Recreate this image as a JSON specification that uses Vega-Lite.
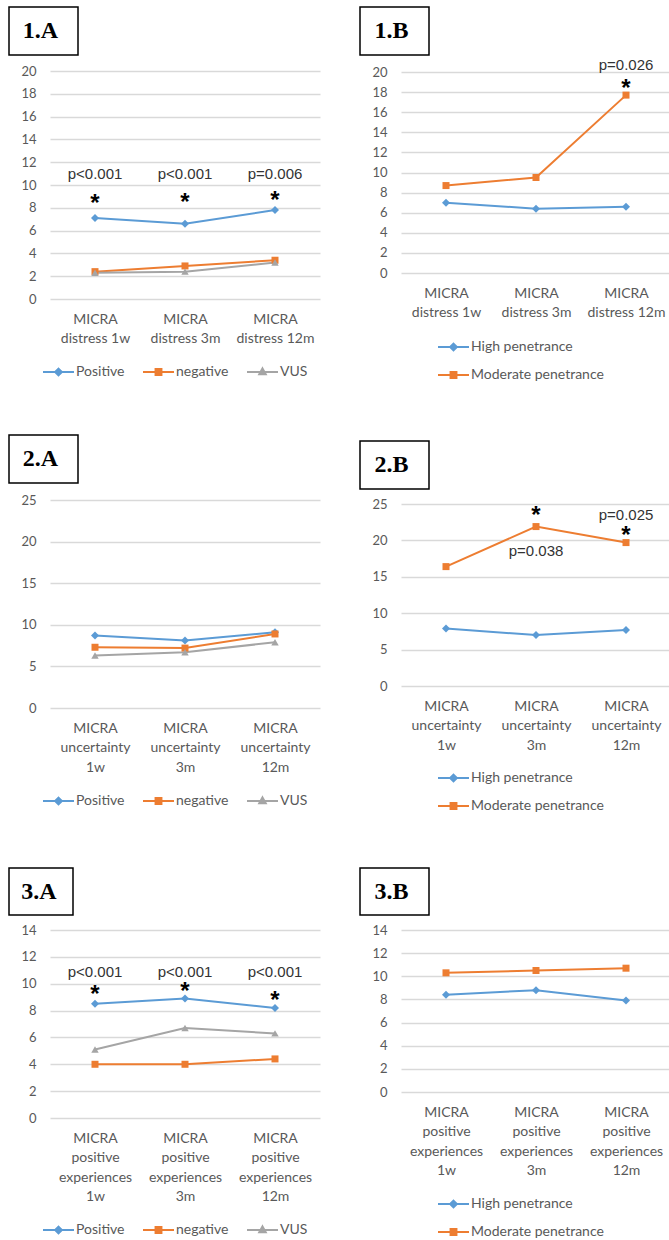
{
  "$schema": "https://vega.github.io/schema/vega-lite/v6.json",
  "padding": {"left": 8, "top": 6, "right": 0, "bottom": 0},
  "background": "white",
  "config": {
    "view": {"stroke": null},
    "font": "Lato",
    "axis": {"domain": false, "ticks": false, "tickSize": 0, "labelFont": "Lato", "labelFontSize": 13, "labelColor": "#595959", "gridColor": "#d9d9d9", "gridWidth": 1.3},
    "axisX": {"grid": false, "labelAngle": 0, "labelPadding": 13, "labelLineHeight": 19.5, "labelFontSize": 14},
    "axisY": {"grid": true, "labelPadding": 14, "minExtent": 40, "maxExtent": 40}
  },
  "datasets": {
    "lines": [
      {"panel": "1A", "time": "MICRA distress 1w", "series": "Positive", "value": 7.1},
      {"panel": "1A", "time": "MICRA distress 3m", "series": "Positive", "value": 6.6},
      {"panel": "1A", "time": "MICRA distress 12m", "series": "Positive", "value": 7.8},
      {"panel": "1A", "time": "MICRA distress 1w", "series": "negative", "value": 2.4},
      {"panel": "1A", "time": "MICRA distress 3m", "series": "negative", "value": 2.9},
      {"panel": "1A", "time": "MICRA distress 12m", "series": "negative", "value": 3.4},
      {"panel": "1A", "time": "MICRA distress 1w", "series": "VUS", "value": 2.3},
      {"panel": "1A", "time": "MICRA distress 3m", "series": "VUS", "value": 2.4},
      {"panel": "1A", "time": "MICRA distress 12m", "series": "VUS", "value": 3.2},
      {"panel": "1B", "time": "MICRA distress 1w", "series": "High penetrance", "value": 7.0},
      {"panel": "1B", "time": "MICRA distress 3m", "series": "High penetrance", "value": 6.4},
      {"panel": "1B", "time": "MICRA distress 12m", "series": "High penetrance", "value": 6.6},
      {"panel": "1B", "time": "MICRA distress 1w", "series": "Moderate penetrance", "value": 8.7},
      {"panel": "1B", "time": "MICRA distress 3m", "series": "Moderate penetrance", "value": 9.5},
      {"panel": "1B", "time": "MICRA distress 12m", "series": "Moderate penetrance", "value": 17.7},
      {"panel": "2A", "time": "MICRA uncertainty 1w", "series": "Positive", "value": 8.7},
      {"panel": "2A", "time": "MICRA uncertainty 3m", "series": "Positive", "value": 8.1},
      {"panel": "2A", "time": "MICRA uncertainty 12m", "series": "Positive", "value": 9.1},
      {"panel": "2A", "time": "MICRA uncertainty 1w", "series": "negative", "value": 7.3},
      {"panel": "2A", "time": "MICRA uncertainty 3m", "series": "negative", "value": 7.2},
      {"panel": "2A", "time": "MICRA uncertainty 12m", "series": "negative", "value": 8.9},
      {"panel": "2A", "time": "MICRA uncertainty 1w", "series": "VUS", "value": 6.3},
      {"panel": "2A", "time": "MICRA uncertainty 3m", "series": "VUS", "value": 6.7},
      {"panel": "2A", "time": "MICRA uncertainty 12m", "series": "VUS", "value": 7.9},
      {"panel": "2B", "time": "MICRA uncertainty 1w", "series": "High penetrance", "value": 7.9},
      {"panel": "2B", "time": "MICRA uncertainty 3m", "series": "High penetrance", "value": 7.0},
      {"panel": "2B", "time": "MICRA uncertainty 12m", "series": "High penetrance", "value": 7.7},
      {"panel": "2B", "time": "MICRA uncertainty 1w", "series": "Moderate penetrance", "value": 16.4},
      {"panel": "2B", "time": "MICRA uncertainty 3m", "series": "Moderate penetrance", "value": 21.9},
      {"panel": "2B", "time": "MICRA uncertainty 12m", "series": "Moderate penetrance", "value": 19.7},
      {"panel": "3A", "time": "MICRA positive experiences 1w", "series": "Positive", "value": 8.5},
      {"panel": "3A", "time": "MICRA positive experiences 3m", "series": "Positive", "value": 8.9},
      {"panel": "3A", "time": "MICRA positive experiences 12m", "series": "Positive", "value": 8.2},
      {"panel": "3A", "time": "MICRA positive experiences 1w", "series": "negative", "value": 4.0},
      {"panel": "3A", "time": "MICRA positive experiences 3m", "series": "negative", "value": 4.0},
      {"panel": "3A", "time": "MICRA positive experiences 12m", "series": "negative", "value": 4.4},
      {"panel": "3A", "time": "MICRA positive experiences 1w", "series": "VUS", "value": 5.1},
      {"panel": "3A", "time": "MICRA positive experiences 3m", "series": "VUS", "value": 6.7},
      {"panel": "3A", "time": "MICRA positive experiences 12m", "series": "VUS", "value": 6.3},
      {"panel": "3B", "time": "MICRA positive experiences 1w", "series": "High penetrance", "value": 8.4},
      {"panel": "3B", "time": "MICRA positive experiences 3m", "series": "High penetrance", "value": 8.8},
      {"panel": "3B", "time": "MICRA positive experiences 12m", "series": "High penetrance", "value": 7.9},
      {"panel": "3B", "time": "MICRA positive experiences 1w", "series": "Moderate penetrance", "value": 10.3},
      {"panel": "3B", "time": "MICRA positive experiences 3m", "series": "Moderate penetrance", "value": 10.5},
      {"panel": "3B", "time": "MICRA positive experiences 12m", "series": "Moderate penetrance", "value": 10.7}
    ],
    "notes": [
      {"panel": "1A", "kind": "p", "time": "MICRA distress 1w", "value": 11.0, "text": "p<0.001"},
      {"panel": "1A", "kind": "p", "time": "MICRA distress 3m", "value": 11.0, "text": "p<0.001"},
      {"panel": "1A", "kind": "p", "time": "MICRA distress 12m", "value": 11.0, "text": "p=0.006"},
      {"panel": "1A", "kind": "star", "time": "MICRA distress 1w", "value": 8.8, "text": "*"},
      {"panel": "1A", "kind": "star", "time": "MICRA distress 3m", "value": 8.9, "text": "*"},
      {"panel": "1A", "kind": "star", "time": "MICRA distress 12m", "value": 9.0, "text": "*"},
      {"panel": "1B", "kind": "p", "time": "MICRA distress 12m", "value": 20.7, "text": "p=0.026"},
      {"panel": "1B", "kind": "star", "time": "MICRA distress 12m", "value": 18.8, "text": "*"},
      {"panel": "2B", "kind": "star", "time": "MICRA uncertainty 3m", "value": 24.0, "text": "*"},
      {"panel": "2B", "kind": "p", "time": "MICRA uncertainty 3m", "value": 18.5, "text": "p=0.038"},
      {"panel": "2B", "kind": "p", "time": "MICRA uncertainty 12m", "value": 23.5, "text": "p=0.025"},
      {"panel": "2B", "kind": "star", "time": "MICRA uncertainty 12m", "value": 21.3, "text": "*"},
      {"panel": "3A", "kind": "p", "time": "MICRA positive experiences 1w", "value": 10.9, "text": "p<0.001"},
      {"panel": "3A", "kind": "p", "time": "MICRA positive experiences 3m", "value": 10.9, "text": "p<0.001"},
      {"panel": "3A", "kind": "p", "time": "MICRA positive experiences 12m", "value": 10.9, "text": "p<0.001"},
      {"panel": "3A", "kind": "star", "time": "MICRA positive experiences 1w", "value": 9.55, "text": "*"},
      {"panel": "3A", "kind": "star", "time": "MICRA positive experiences 3m", "value": 9.75, "text": "*"},
      {"panel": "3A", "kind": "star", "time": "MICRA positive experiences 12m", "value": 9.1, "text": "*"}
    ]
  },
  "resolve": {"scale": {"color": "independent"}, "legend": {"color": "independent"}},
  "spacing": 39,
  "hconcat": [
    {
      "resolve": {"scale": {"color": "independent"}, "legend": {"color": "independent"}},
      "spacing": 53,
      "vconcat": [
        {
          "resolve": {"scale": {"color": "independent"}, "legend": {"color": "independent"}},
          "spacing": 9,
          "vconcat": [
            {"width": 69, "height": 48, "view": {"stroke": "#000000", "strokeWidth": 1.5}, "data": {"values": [{"label": "1.A"}]}, "mark": {"type": "text", "font": "Liberation Serif", "fontWeight": "bold", "fontSize": 24, "dx": -3, "color": "#000000"}, "encoding": {"text": {"field": "label"}}},
            {
              "spacing": 0,
              "hconcat": [
                {"width": 1, "height": 1, "data": {"values": [{"t": ""}]}, "mark": {"type": "text"}, "encoding": {"text": {"field": "t"}}},
                {
                  "width": 270, "height": 228,
                  "encoding": {
                    "x": {"field": "time", "type": "nominal", "sort": null, "scale": {"domain": ["MICRA distress 1w", "MICRA distress 3m", "MICRA distress 12m"]}, "axis": {"title": null, "labelExpr": "['MICRA', replace(datum.label, 'MICRA ', '')]"}},
                    "y": {"field": "value", "type": "quantitative", "scale": {"domain": [0, 20], "nice": false}, "axis": {"title": null, "values": [0, 2, 4, 6, 8, 10, 12, 14, 16, 18, 20]}}
                  },
                  "layer": [
                    {"data": {"name": "lines"}, "transform": [{"filter": "datum.panel === '1A'"}], "mark": {"type": "line", "strokeWidth": 2},
                     "encoding": {"color": {"field": "series", "type": "nominal", "scale": {"domain": ["Positive", "negative", "VUS"], "range": ["#5B9BD5", "#ED7D31", "#A5A5A5"]},
                       "legend": {"title": null, "orient": "none", "legendX": 33, "legendY": 292, "direction": "horizontal", "symbolSize": 961, "symbolStrokeWidth": 2, "clipHeight": 18, "columnPadding": 17, "labelOffset": 1, "labelFont": "Lato", "labelFontSize": 14, "labelColor": "#595959", "padding": 0,
                         "encode": {"symbols": {"update": {
                           "shape": [{"test": "datum.value === 'Positive'", "value": "M-1,0H1M0,-0.22L0.22,0L0,0.22L-0.22,0Z"}, {"test": "datum.value === 'negative'", "value": "M-1,0H1M-0.19,-0.19H0.19V0.19H-0.19Z"}, {"value": "M-1,0H1M0,-0.23L0.21,0.15H-0.21Z"}],
                           "fill": [{"test": "datum.value === 'Positive'", "value": "#5B9BD5"}, {"test": "datum.value === 'negative'", "value": "#ED7D31"}, {"value": "#A5A5A5"}],
                           "stroke": [{"test": "datum.value === 'Positive'", "value": "#5B9BD5"}, {"test": "datum.value === 'negative'", "value": "#ED7D31"}, {"value": "#A5A5A5"}],
                           "strokeWidth": {"value": 2}, "opacity": {"value": 1}}}}}}}},
                    {"data": {"name": "lines"}, "transform": [{"filter": "datum.panel === '1A' && datum.series === 'Positive'"}], "mark": {"type": "point", "shape": "diamond", "filled": true, "opacity": 1, "size": 64, "color": "#5B9BD5"}},
                    {"data": {"name": "lines"}, "transform": [{"filter": "datum.panel === '1A' && datum.series === 'negative'"}], "mark": {"type": "point", "shape": "square", "filled": true, "opacity": 1, "size": 49, "color": "#ED7D31"}},
                    {"data": {"name": "lines"}, "transform": [{"filter": "datum.panel === '1A' && datum.series === 'VUS'"}], "mark": {"type": "point", "shape": "triangle-up", "filled": true, "opacity": 1, "size": 55, "color": "#A5A5A5"}},
                    {"data": {"name": "notes"}, "transform": [{"filter": "datum.panel === '1A' && datum.kind === 'p'"}], "mark": {"type": "text", "font": "Liberation Sans", "fontSize": 15, "color": "#333333"}, "encoding": {"text": {"field": "text"}}},
                    {"data": {"name": "notes"}, "transform": [{"filter": "datum.panel === '1A' && datum.kind === 'star'"}], "mark": {"type": "text", "font": "Liberation Sans", "fontSize": 24, "fontWeight": "bold", "color": "#000000", "dy": 5}, "encoding": {"text": {"field": "text"}}}
                  ]
                }
              ]
            }
          ]
        },
        {
          "resolve": {"scale": {"color": "independent"}, "legend": {"color": "independent"}},
          "spacing": 57,
          "vconcat": [
            {
              "resolve": {"scale": {"color": "independent"}, "legend": {"color": "independent"}},
              "spacing": 10,
              "vconcat": [
                {"width": 69, "height": 48, "view": {"stroke": "#000000", "strokeWidth": 1.5}, "data": {"values": [{"label": "2.A"}]}, "mark": {"type": "text", "font": "Liberation Serif", "fontWeight": "bold", "fontSize": 24, "dx": -3, "color": "#000000"}, "encoding": {"text": {"field": "label"}}},
                {
                  "spacing": 0,
                  "hconcat": [
                    {"width": 1, "height": 1, "data": {"values": [{"t": ""}]}, "mark": {"type": "text"}, "encoding": {"text": {"field": "t"}}},
                    {
                      "width": 270, "height": 208,
                      "encoding": {
                        "x": {"field": "time", "type": "nominal", "sort": null, "scale": {"domain": ["MICRA uncertainty 1w", "MICRA uncertainty 3m", "MICRA uncertainty 12m"]}, "axis": {"title": null, "labelExpr": "split(datum.label, ' ')"}},
                        "y": {"field": "value", "type": "quantitative", "scale": {"domain": [0, 25], "nice": false}, "axis": {"title": null, "values": [0, 5, 10, 15, 20, 25]}}
                      },
                      "layer": [
                        {"data": {"name": "lines"}, "transform": [{"filter": "datum.panel === '2A'"}], "mark": {"type": "line", "strokeWidth": 2},
                         "encoding": {"color": {"field": "series", "type": "nominal", "scale": {"domain": ["Positive", "negative", "VUS"], "range": ["#5B9BD5", "#ED7D31", "#A5A5A5"]},
                           "legend": {"title": null, "orient": "none", "legendX": 33, "legendY": 292, "direction": "horizontal", "symbolSize": 961, "symbolStrokeWidth": 2, "clipHeight": 18, "columnPadding": 17, "labelOffset": 1, "labelFont": "Lato", "labelFontSize": 14, "labelColor": "#595959", "padding": 0,
                             "encode": {"symbols": {"update": {
                               "shape": [{"test": "datum.value === 'Positive'", "value": "M-1,0H1M0,-0.22L0.22,0L0,0.22L-0.22,0Z"}, {"test": "datum.value === 'negative'", "value": "M-1,0H1M-0.19,-0.19H0.19V0.19H-0.19Z"}, {"value": "M-1,0H1M0,-0.23L0.21,0.15H-0.21Z"}],
                               "fill": [{"test": "datum.value === 'Positive'", "value": "#5B9BD5"}, {"test": "datum.value === 'negative'", "value": "#ED7D31"}, {"value": "#A5A5A5"}],
                               "stroke": [{"test": "datum.value === 'Positive'", "value": "#5B9BD5"}, {"test": "datum.value === 'negative'", "value": "#ED7D31"}, {"value": "#A5A5A5"}],
                               "strokeWidth": {"value": 2}, "opacity": {"value": 1}}}}}}}},
                        {"data": {"name": "lines"}, "transform": [{"filter": "datum.panel === '2A' && datum.series === 'Positive'"}], "mark": {"type": "point", "shape": "diamond", "filled": true, "opacity": 1, "size": 64, "color": "#5B9BD5"}},
                        {"data": {"name": "lines"}, "transform": [{"filter": "datum.panel === '2A' && datum.series === 'negative'"}], "mark": {"type": "point", "shape": "square", "filled": true, "opacity": 1, "size": 49, "color": "#ED7D31"}},
                        {"data": {"name": "lines"}, "transform": [{"filter": "datum.panel === '2A' && datum.series === 'VUS'"}], "mark": {"type": "point", "shape": "triangle-up", "filled": true, "opacity": 1, "size": 55, "color": "#A5A5A5"}}
                      ]
                    }
                  ]
                }
              ]
            },
            {
              "resolve": {"scale": {"color": "independent"}, "legend": {"color": "independent"}},
              "spacing": 8,
              "vconcat": [
                {"width": 64, "height": 47, "view": {"stroke": "#000000", "strokeWidth": 1.5}, "data": {"values": [{"label": "3.A"}]}, "mark": {"type": "text", "font": "Liberation Serif", "fontWeight": "bold", "fontSize": 24, "dx": -2, "color": "#000000"}, "encoding": {"text": {"field": "label"}}},
                {
                  "spacing": 0,
                  "hconcat": [
                    {"width": 1, "height": 1, "data": {"values": [{"t": ""}]}, "mark": {"type": "text"}, "encoding": {"text": {"field": "t"}}},
                    {
                      "width": 270, "height": 188,
                      "encoding": {
                        "x": {"field": "time", "type": "nominal", "sort": null, "scale": {"domain": ["MICRA positive experiences 1w", "MICRA positive experiences 3m", "MICRA positive experiences 12m"]}, "axis": {"title": null, "labelExpr": "split(datum.label, ' ')"}},
                        "y": {"field": "value", "type": "quantitative", "scale": {"domain": [0, 14], "nice": false}, "axis": {"title": null, "values": [0, 2, 4, 6, 8, 10, 12, 14]}}
                      },
                      "layer": [
                        {"data": {"name": "lines"}, "transform": [{"filter": "datum.panel === '3A'"}], "mark": {"type": "line", "strokeWidth": 2},
                         "encoding": {"color": {"field": "series", "type": "nominal", "scale": {"domain": ["Positive", "negative", "VUS"], "range": ["#5B9BD5", "#ED7D31", "#A5A5A5"]},
                           "legend": {"title": null, "orient": "none", "legendX": 33, "legendY": 291, "direction": "horizontal", "symbolSize": 961, "symbolStrokeWidth": 2, "clipHeight": 18, "columnPadding": 17, "labelOffset": 1, "labelFont": "Lato", "labelFontSize": 14, "labelColor": "#595959", "padding": 0,
                             "encode": {"symbols": {"update": {
                               "shape": [{"test": "datum.value === 'Positive'", "value": "M-1,0H1M0,-0.22L0.22,0L0,0.22L-0.22,0Z"}, {"test": "datum.value === 'negative'", "value": "M-1,0H1M-0.19,-0.19H0.19V0.19H-0.19Z"}, {"value": "M-1,0H1M0,-0.23L0.21,0.15H-0.21Z"}],
                               "fill": [{"test": "datum.value === 'Positive'", "value": "#5B9BD5"}, {"test": "datum.value === 'negative'", "value": "#ED7D31"}, {"value": "#A5A5A5"}],
                               "stroke": [{"test": "datum.value === 'Positive'", "value": "#5B9BD5"}, {"test": "datum.value === 'negative'", "value": "#ED7D31"}, {"value": "#A5A5A5"}],
                               "strokeWidth": {"value": 2}, "opacity": {"value": 1}}}}}}}},
                        {"data": {"name": "lines"}, "transform": [{"filter": "datum.panel === '3A' && datum.series === 'Positive'"}], "mark": {"type": "point", "shape": "diamond", "filled": true, "opacity": 1, "size": 64, "color": "#5B9BD5"}},
                        {"data": {"name": "lines"}, "transform": [{"filter": "datum.panel === '3A' && datum.series === 'negative'"}], "mark": {"type": "point", "shape": "square", "filled": true, "opacity": 1, "size": 49, "color": "#ED7D31"}},
                        {"data": {"name": "lines"}, "transform": [{"filter": "datum.panel === '3A' && datum.series === 'VUS'"}], "mark": {"type": "point", "shape": "triangle-up", "filled": true, "opacity": 1, "size": 55, "color": "#A5A5A5"}},
                        {"data": {"name": "notes"}, "transform": [{"filter": "datum.panel === '3A' && datum.kind === 'p'"}], "mark": {"type": "text", "font": "Liberation Sans", "fontSize": 15, "color": "#333333"}, "encoding": {"text": {"field": "text"}}},
                        {"data": {"name": "notes"}, "transform": [{"filter": "datum.panel === '3A' && datum.kind === 'star'"}], "mark": {"type": "text", "font": "Liberation Sans", "fontSize": 24, "fontWeight": "bold", "color": "#000000", "dy": 5}, "encoding": {"text": {"field": "text"}}}
                      ]
                    }
                  ]
                }
              ]
            }
          ]
        }
      ]
    },
    {
      "resolve": {"scale": {"color": "independent"}, "legend": {"color": "independent"}},
      "spacing": 51,
      "vconcat": [
        {
          "resolve": {"scale": {"color": "independent"}, "legend": {"color": "independent"}},
          "spacing": 1,
          "vconcat": [
            {"width": 69, "height": 48, "view": {"stroke": "#000000", "strokeWidth": 1.5}, "data": {"values": [{"label": "1.B"}]}, "mark": {"type": "text", "font": "Liberation Serif", "fontWeight": "bold", "fontSize": 24, "dx": -3, "color": "#000000"}, "encoding": {"text": {"field": "label"}}},
            {
              "spacing": 0,
              "hconcat": [
                {"width": 1, "height": 1, "data": {"values": [{"t": ""}]}, "mark": {"type": "text"}, "encoding": {"text": {"field": "t"}}},
                {
                  "width": 270, "height": 201,
                  "encoding": {
                    "x": {"field": "time", "type": "nominal", "sort": null, "scale": {"domain": ["MICRA distress 1w", "MICRA distress 3m", "MICRA distress 12m"]}, "axis": {"title": null, "labelExpr": "['MICRA', replace(datum.label, 'MICRA ', '')]"}},
                    "y": {"field": "value", "type": "quantitative", "scale": {"domain": [0, 20], "nice": false}, "axis": {"title": null, "values": [0, 2, 4, 6, 8, 10, 12, 14, 16, 18, 20]}}
                  },
                  "layer": [
                    {"data": {"name": "lines"}, "transform": [{"filter": "datum.panel === '1B'"}], "mark": {"type": "line", "strokeWidth": 2},
                     "encoding": {"color": {"field": "series", "type": "nominal", "scale": {"domain": ["High penetrance", "Moderate penetrance"], "range": ["#5B9BD5", "#ED7D31"]},
                       "legend": {"title": null, "orient": "none", "legendX": 77, "legendY": 261, "direction": "vertical", "symbolSize": 961, "symbolStrokeWidth": 2, "clipHeight": 28, "rowPadding": 0, "labelOffset": 1, "labelFont": "Lato", "labelFontSize": 14, "labelColor": "#595959", "padding": 0,
                         "encode": {"symbols": {"update": {
                           "shape": [{"test": "datum.value === 'High penetrance'", "value": "M-1,0H1M0,-0.22L0.22,0L0,0.22L-0.22,0Z"}, {"value": "M-1,0H1M-0.19,-0.19H0.19V0.19H-0.19Z"}],
                           "fill": [{"test": "datum.value === 'High penetrance'", "value": "#5B9BD5"}, {"value": "#ED7D31"}],
                           "stroke": [{"test": "datum.value === 'High penetrance'", "value": "#5B9BD5"}, {"value": "#ED7D31"}],
                           "strokeWidth": {"value": 2}, "opacity": {"value": 1}}}}}}}},
                    {"data": {"name": "lines"}, "transform": [{"filter": "datum.panel === '1B' && datum.series === 'High penetrance'"}], "mark": {"type": "point", "shape": "diamond", "filled": true, "opacity": 1, "size": 64, "color": "#5B9BD5"}},
                    {"data": {"name": "lines"}, "transform": [{"filter": "datum.panel === '1B' && datum.series === 'Moderate penetrance'"}], "mark": {"type": "point", "shape": "square", "filled": true, "opacity": 1, "size": 49, "color": "#ED7D31"}},
                    {"data": {"name": "notes"}, "transform": [{"filter": "datum.panel === '1B' && datum.kind === 'p'"}], "mark": {"type": "text", "font": "Liberation Sans", "fontSize": 15, "color": "#333333"}, "encoding": {"text": {"field": "text"}}},
                    {"data": {"name": "notes"}, "transform": [{"filter": "datum.panel === '1B' && datum.kind === 'star'"}], "mark": {"type": "text", "font": "Liberation Sans", "fontSize": 24, "fontWeight": "bold", "color": "#000000", "dy": 5}, "encoding": {"text": {"field": "text"}}}
                  ]
                }
              ]
            }
          ]
        },
        {
          "resolve": {"scale": {"color": "independent"}, "legend": {"color": "independent"}},
          "spacing": 47,
          "vconcat": [
            {
              "resolve": {"scale": {"color": "independent"}, "legend": {"color": "independent"}},
              "spacing": 8,
              "vconcat": [
                {"width": 69, "height": 48, "view": {"stroke": "#000000", "strokeWidth": 1.5}, "data": {"values": [{"label": "2.B"}]}, "mark": {"type": "text", "font": "Liberation Serif", "fontWeight": "bold", "fontSize": 24, "dx": -3, "color": "#000000"}, "encoding": {"text": {"field": "label"}}},
                {
                  "spacing": 0,
                  "hconcat": [
                    {"width": 1, "height": 1, "data": {"values": [{"t": ""}]}, "mark": {"type": "text"}, "encoding": {"text": {"field": "t"}}},
                    {
                      "width": 270, "height": 182,
                      "encoding": {
                        "x": {"field": "time", "type": "nominal", "sort": null, "scale": {"domain": ["MICRA uncertainty 1w", "MICRA uncertainty 3m", "MICRA uncertainty 12m"]}, "axis": {"title": null, "labelExpr": "split(datum.label, ' ')"}},
                        "y": {"field": "value", "type": "quantitative", "scale": {"domain": [0, 25], "nice": false}, "axis": {"title": null, "values": [0, 5, 10, 15, 20, 25]}}
                      },
                      "layer": [
                        {"data": {"name": "lines"}, "transform": [{"filter": "datum.panel === '2B'"}], "mark": {"type": "line", "strokeWidth": 2},
                         "encoding": {"color": {"field": "series", "type": "nominal", "scale": {"domain": ["High penetrance", "Moderate penetrance"], "range": ["#5B9BD5", "#ED7D31"]},
                           "legend": {"title": null, "orient": "none", "legendX": 77, "legendY": 260, "direction": "vertical", "symbolSize": 961, "symbolStrokeWidth": 2, "clipHeight": 28, "rowPadding": 0, "labelOffset": 1, "labelFont": "Lato", "labelFontSize": 14, "labelColor": "#595959", "padding": 0,
                             "encode": {"symbols": {"update": {
                               "shape": [{"test": "datum.value === 'High penetrance'", "value": "M-1,0H1M0,-0.22L0.22,0L0,0.22L-0.22,0Z"}, {"value": "M-1,0H1M-0.19,-0.19H0.19V0.19H-0.19Z"}],
                               "fill": [{"test": "datum.value === 'High penetrance'", "value": "#5B9BD5"}, {"value": "#ED7D31"}],
                               "stroke": [{"test": "datum.value === 'High penetrance'", "value": "#5B9BD5"}, {"value": "#ED7D31"}],
                               "strokeWidth": {"value": 2}, "opacity": {"value": 1}}}}}}}},
                        {"data": {"name": "lines"}, "transform": [{"filter": "datum.panel === '2B' && datum.series === 'High penetrance'"}], "mark": {"type": "point", "shape": "diamond", "filled": true, "opacity": 1, "size": 64, "color": "#5B9BD5"}},
                        {"data": {"name": "lines"}, "transform": [{"filter": "datum.panel === '2B' && datum.series === 'Moderate penetrance'"}], "mark": {"type": "point", "shape": "square", "filled": true, "opacity": 1, "size": 49, "color": "#ED7D31"}},
                        {"data": {"name": "notes"}, "transform": [{"filter": "datum.panel === '2B' && datum.kind === 'p'"}], "mark": {"type": "text", "font": "Liberation Sans", "fontSize": 15, "color": "#333333"}, "encoding": {"text": {"field": "text"}}},
                        {"data": {"name": "notes"}, "transform": [{"filter": "datum.panel === '2B' && datum.kind === 'star'"}], "mark": {"type": "text", "font": "Liberation Sans", "fontSize": 24, "fontWeight": "bold", "color": "#000000", "dy": 5}, "encoding": {"text": {"field": "text"}}}
                      ]
                    }
                  ]
                }
              ]
            },
            {
              "resolve": {"scale": {"color": "independent"}, "legend": {"color": "independent"}},
              "spacing": 8,
              "vconcat": [
                {"width": 69, "height": 47, "view": {"stroke": "#000000", "strokeWidth": 1.5}, "data": {"values": [{"label": "3.B"}]}, "mark": {"type": "text", "font": "Liberation Serif", "fontWeight": "bold", "fontSize": 24, "dx": -3, "color": "#000000"}, "encoding": {"text": {"field": "label"}}},
                {
                  "spacing": 0,
                  "hconcat": [
                    {"width": 1, "height": 1, "data": {"values": [{"t": ""}]}, "mark": {"type": "text"}, "encoding": {"text": {"field": "t"}}},
                    {
                      "width": 270, "height": 162,
                      "encoding": {
                        "x": {"field": "time", "type": "nominal", "sort": null, "scale": {"domain": ["MICRA positive experiences 1w", "MICRA positive experiences 3m", "MICRA positive experiences 12m"]}, "axis": {"title": null, "labelExpr": "split(datum.label, ' ')"}},
                        "y": {"field": "value", "type": "quantitative", "scale": {"domain": [0, 14], "nice": false}, "axis": {"title": null, "values": [0, 2, 4, 6, 8, 10, 12, 14]}}
                      },
                      "layer": [
                        {"data": {"name": "lines"}, "transform": [{"filter": "datum.panel === '3B'"}], "mark": {"type": "line", "strokeWidth": 2},
                         "encoding": {"color": {"field": "series", "type": "nominal", "scale": {"domain": ["High penetrance", "Moderate penetrance"], "range": ["#5B9BD5", "#ED7D31"]},
                           "legend": {"title": null, "orient": "none", "legendX": 77, "legendY": 260, "direction": "vertical", "symbolSize": 961, "symbolStrokeWidth": 2, "clipHeight": 28, "rowPadding": 0, "labelOffset": 1, "labelFont": "Lato", "labelFontSize": 14, "labelColor": "#595959", "padding": 0,
                             "encode": {"symbols": {"update": {
                               "shape": [{"test": "datum.value === 'High penetrance'", "value": "M-1,0H1M0,-0.22L0.22,0L0,0.22L-0.22,0Z"}, {"value": "M-1,0H1M-0.19,-0.19H0.19V0.19H-0.19Z"}],
                               "fill": [{"test": "datum.value === 'High penetrance'", "value": "#5B9BD5"}, {"value": "#ED7D31"}],
                               "stroke": [{"test": "datum.value === 'High penetrance'", "value": "#5B9BD5"}, {"value": "#ED7D31"}],
                               "strokeWidth": {"value": 2}, "opacity": {"value": 1}}}}}}}},
                        {"data": {"name": "lines"}, "transform": [{"filter": "datum.panel === '3B' && datum.series === 'High penetrance'"}], "mark": {"type": "point", "shape": "diamond", "filled": true, "opacity": 1, "size": 64, "color": "#5B9BD5"}},
                        {"data": {"name": "lines"}, "transform": [{"filter": "datum.panel === '3B' && datum.series === 'Moderate penetrance'"}], "mark": {"type": "point", "shape": "square", "filled": true, "opacity": 1, "size": 49, "color": "#ED7D31"}}
                      ]
                    }
                  ]
                }
              ]
            }
          ]
        }
      ]
    }
  ]
}
